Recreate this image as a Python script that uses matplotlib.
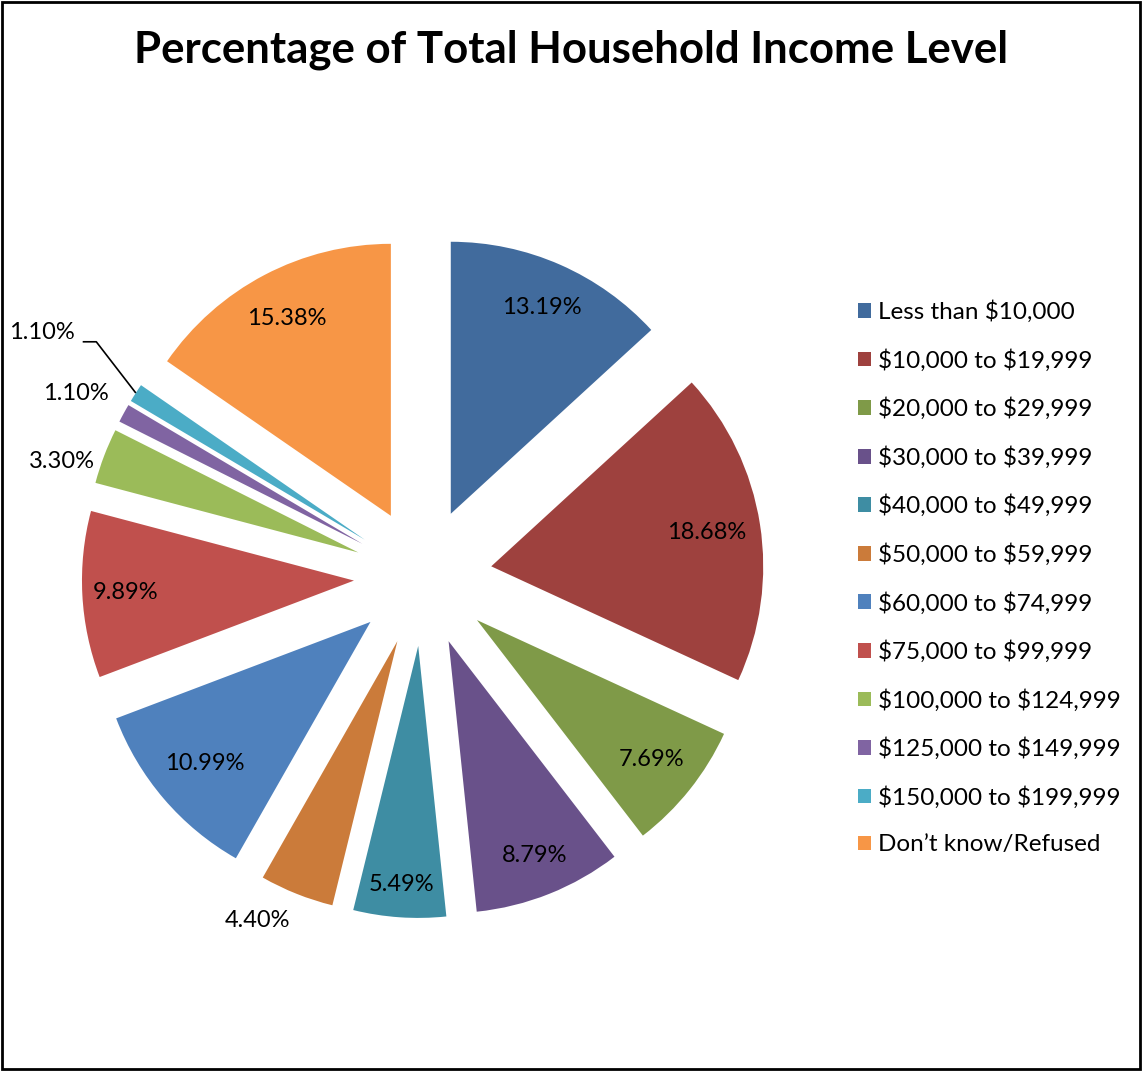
import numpy as np
import matplotlib
matplotlib.use("Agg")
import matplotlib.pyplot as plt
from matplotlib.patches import Rectangle

plt.rcParams['font.family'] = ['Lato', 'DejaVu Sans']
plt.rcParams['text.parse_math'] = False

# income brackets and share of households (%)
brackets = ["Less than $10,000", "$10,000 to $19,999", "$20,000 to $29,999",
            "$30,000 to $39,999", "$40,000 to $49,999", "$50,000 to $59,999",
            "$60,000 to $74,999", "$75,000 to $99,999", "$100,000 to $124,999",
            "$125,000 to $149,999", "$150,000 to $199,999", "Don\u2019t know/Refused"]
shares = [13.19, 18.68, 7.69, 8.79, 5.49, 4.40, 10.99, 9.89, 3.30, 1.10, 1.10, 15.38]
colors = ["#416B9D", "#9E413E", "#7F9A48", "#69518A", "#3E8DA3", "#CB7B3A",
          "#4F81BD", "#C0504D", "#9BBB59", "#8064A2", "#4BACC6", "#F79646"]

# distance of each percent label from its wedge tip (in radii), and angle nudge (deg)
label_dist = [0.83, 0.80, 0.82, 0.85, 0.88, 1.15, 0.80, 0.84, 1.14, 1.19, 1.41, 0.82]
label_turn = [0, 0, 0, 0, 0, 4.8, 0, 0, -3.8, -1.0, 0, 0]
explode_r = 0.254

fig = plt.figure(figsize=(11.43, 10.71), dpi=100)
ax = fig.add_axes([0.0369, 0.1057, 0.6663, 0.7111])

wedges, _ = ax.pie(shares, colors=colors, startangle=90, counterclock=False,
                   explode=[explode_r] * len(shares), radius=1.0,
                   wedgeprops=dict(linewidth=0))
ax.set_xlim(-1.4, 1.4)
ax.set_ylim(-1.4, 1.4)
ax.set_aspect('equal')
ax.axis('off')

total = sum(shares)
cum = np.cumsum([0] + shares[:-1])
for i, v in enumerate(shares):
    mid = np.deg2rad((cum[i] + v / 2) / total * 360)
    dx, dy = np.sin(mid), np.cos(mid)
    tip = (explode_r * dx, explode_r * dy)
    turn = mid + np.deg2rad(label_turn[i])
    lx = tip[0] + label_dist[i] * np.sin(turn)
    ly = tip[1] + label_dist[i] * np.cos(turn)
    ax.text(lx, ly, f"{v:.2f}%", ha='center', va='center', fontsize=17, color='black')
    if label_dist[i] > 1.3:
        # leader line from the label to the wedge rim
        edge = (tip[0] + dx, tip[1] + dy)
        ax.plot([lx + 0.15, lx + 0.20, edge[0]], [ly - 0.033, ly - 0.033, edge[1]],
                color='black', linewidth=1.2, solid_capstyle='butt', clip_on=False)

fig.suptitle("Percentage of Total Household Income Level", x=0.5, y=0.972,
             fontsize=31.5, fontweight='bold')

fig.legend(wedges, brackets, loc='upper left', bbox_to_anchor=(0.742, 0.7285),
           frameon=False, fontsize=17.5, handlelength=0.55, handleheight=0.55,
           handletextpad=0.3, labelspacing=1.065, borderaxespad=0)

fig.patches.append(Rectangle((0.002, 0.002), 0.995, 0.996, transform=fig.transFigure,
                             fill=False, edgecolor='black', linewidth=2))

fig.savefig("out.png", dpi=100)
